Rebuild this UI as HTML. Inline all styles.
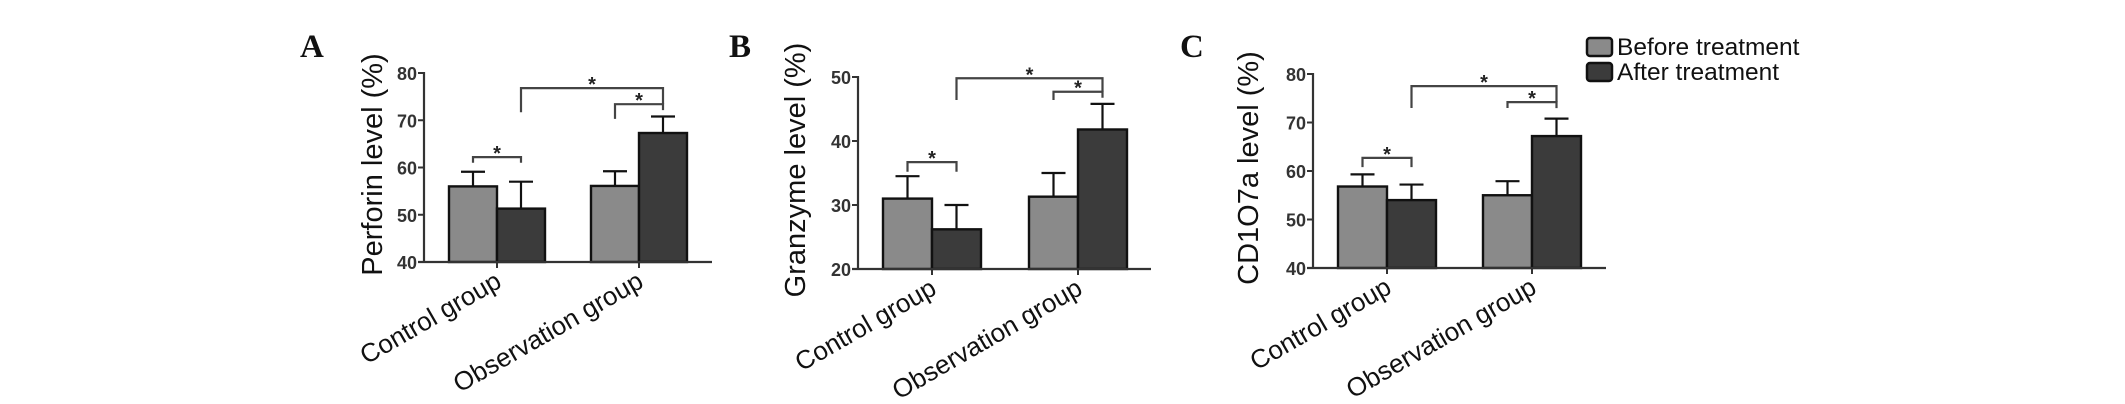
<!DOCTYPE html>
<html><head><meta charset="utf-8"><style>
html,body{margin:0;padding:0;background:#fff;}
svg{display:block;}
</style></head><body>
<svg id="fig" width="2125" height="404" viewBox="0 0 2125 404" xmlns="http://www.w3.org/2000/svg" font-family="Liberation Sans, Arial, sans-serif"></svg>
<script>
const categories = ["Control group", "Observation group"];
const seriesNames = ["Before treatment", "After treatment"];
const perforinBefore = [56, 56.1];
const perforinAfter = [51.3, 67.3];
const perforinBeforeErr = [3.1, 3.1];
const perforinAfterErr = [5.7, 3.5];
const perforinTicks = [40, 50, 60, 70, 80];
const granzymeBefore = [31, 31.3];
const granzymeAfter = [26.2, 41.8];
const granzymeBeforeErr = [3.5, 3.7];
const granzymeAfterErr = [3.8, 4.0];
const granzymeTicks = [20, 30, 40, 50];
const cd107Before = [56.8, 55];
const cd107After = [54, 67.2];
const cd107BeforeErr = [2.5, 2.9];
const cd107AfterErr = [3.2, 3.6];
const cd107Ticks = [40, 50, 60, 70, 80];
// bracket levels in data units: [controlLevel, controlDrop, topLevel, topLeftDrop, innerLevel, innerLeftDrop]
const perforinBrackets = [62.2, 61, 76.8, 71.7, 73.4, 70.3];
const granzymeBrackets = [36.7, 35.2, 49.8, 46.4, 47.7, 46.4];
const cd107Brackets = [62.7, 60.8, 77.5, 73, 74.2, 73];

const NS = "http://www.w3.org/2000/svg";
const svg = document.getElementById('fig');
function mk(tag, attrs, parent, txt){
  const e = document.createElementNS(NS, tag);
  for (const k in attrs) e.setAttribute(k, attrs[k]);
  if (txt !== undefined) e.textContent = txt;
  (parent || svg).appendChild(e);
  return e;
}

function panel(cfg){
  const g = mk('g', {});
  
  
  const ticks = cfg.ticks;
  const ymin = ticks[0], ymax = ticks[ticks.length-1];
  const y = v => cfg.yBot - (v - ymin) / (ymax - ymin) * (cfg.yBot - cfg.yTop);
  const L = mk('text', {x: cfg.letterX, y: 57, style: 'font-family:"Liberation Serif",serif', 'font-weight': 'bold', 'font-size': 33, fill: '#111'}, g, cfg.letter);
  
  
  const t = mk('text', {x: 0, y: 0, 'font-size': 29, fill: '#111', 'text-anchor': 'middle', transform: `translate(${cfg.titleX},${(cfg.yTop+cfg.yBot)/2 - 3}) rotate(-90)`}, g, cfg.title);
  
  
  const bw = cfg.barW;
  const befores = cfg.before, afters = cfg.after;
  for (let i = 0; i < categories.length; i++){
    const c = cfg.centers[i];
    [[befores[i], cfg.beforeErr[i], c - bw, '#8a8a8a', 'before'], [afters[i], cfg.afterErr[i], c, '#3b3b3b', 'after']].forEach(([v, e, x0, col, nm]) => {
      const cx = x0 + bw/2;
      const el = mk('line', {x1: cx, x2: cx, y1: y(v), y2: y(v+e), stroke: '#111', 'stroke-width': 2.2}, g);
      
      
      const cap = mk('line', {x1: cx-12, x2: cx+12, y1: y(v+e), y2: y(v+e), stroke: '#111', 'stroke-width': 2.2}, g);
      
      
      const r = mk('rect', {x: x0, y: y(v), width: bw, height: y(ymin) - y(v), fill: col, stroke: '#111', 'stroke-width': 2.4}, g);
      
      
    });
    const xt = mk('line', {x1: c, x2: c, y1: cfg.yBot, y2: cfg.yBot + 6, stroke: '#333', 'stroke-width': 2}, g);
    
    
    const lab = mk('text', {x: 0, y: 0, 'font-size': 26, fill: '#111', 'text-anchor': 'end', transform: `translate(${c+6},${cfg.yBot+24}) rotate(-30)`}, g, categories[i]);
    
    
  }
  const ya = mk('line', {x1: cfg.axX, x2: cfg.axX, y1: cfg.yTop - 1, y2: cfg.yBot, stroke: '#333', 'stroke-width': 2.2}, g);
  
  
  const xa = mk('line', {x1: cfg.axX - 6, x2: cfg.axEnd, y1: cfg.yBot, y2: cfg.yBot, stroke: '#333', 'stroke-width': 2.2}, g);
  
  
  ticks.forEach(tv => {
    const tk = mk('line', {x1: cfg.axX - 6, x2: cfg.axX, y1: y(tv), y2: y(tv), stroke: '#333', 'stroke-width': 2}, g);
    
    
    const tl = mk('text', {x: cfg.axX - 7, y: y(tv) + 7, 'font-size': 18, 'font-weight': 'bold', fill: '#333', 'text-anchor': 'end'}, g, tv);
    
    
  });
  const b = cfg.brackets;
  const cB0 = cfg.centers[0] - bw/2, cA0 = cfg.centers[0] + bw/2;
  const cB1 = cfg.centers[1] - bw/2, cA1 = cfg.centers[1] + bw/2;
  const br = (pts, sx, sy) => {
    const p = mk('polyline', {points: pts.map(q => q.join(',')).join(' '), fill: 'none', stroke: '#444', 'stroke-width': 2.2}, g);
    
    
    const s = mk('text', {x: sx, y: sy + 14, 'font-size': 20, 'font-weight': 'bold', fill: '#222', 'text-anchor': 'middle'}, g, '*');
    
    
  };
  br([[cB0, y(b[1])], [cB0, y(b[0])], [cA0, y(b[0])], [cA0, y(b[1])]], (cB0+cA0)/2, y(b[0]) - 11);
  br([[cA0, y(b[3])], [cA0, y(b[2])], [cA1, y(b[2])], [cA1, y(b[4])]], (cA0+cA1)/2, y(b[2]) - 11);
  br([[cB1, y(b[5])], [cB1, y(b[4])], [cA1, y(b[4])], [cA1, y(b[4]) + 6]], (cB1+cA1)/2, y(b[4]) - 11);
}

panel({name: 'panel-a-perforin', letter: 'A', letterX: 300, title: 'Perforin level (%)', titleX: 382, axX: 424, axEnd: 712, yTop: 73, yBot: 262, ticks: perforinTicks, centers: [497, 639], barW: 48, before: perforinBefore, after: perforinAfter, beforeErr: perforinBeforeErr, afterErr: perforinAfterErr, brackets: perforinBrackets});
panel({name: 'panel-b-granzyme', letter: 'B', letterX: 729, title: 'Granzyme level (%)', titleX: 805, axX: 858, axEnd: 1151, yTop: 77, yBot: 269, ticks: granzymeTicks, centers: [932, 1078], barW: 49, before: granzymeBefore, after: granzymeAfter, beforeErr: granzymeBeforeErr, afterErr: granzymeAfterErr, brackets: granzymeBrackets});
panel({name: 'panel-c-cd107a', letter: 'C', letterX: 1180, title: 'CD1O7a level (%)', titleX: 1258, axX: 1313, axEnd: 1606, yTop: 74, yBot: 268, ticks: cd107Ticks, centers: [1387, 1532], barW: 49, before: cd107Before, after: cd107After, beforeErr: cd107BeforeErr, afterErr: cd107AfterErr, brackets: cd107Brackets});

const lg = mk('g', {});


[['#8a8a8a', 38], ['#3b3b3b', 63]].forEach(([col, yy], i) => {
  const r = mk('rect', {x: 1587, y: yy, width: 25, height: 18, rx: 3, fill: col, stroke: '#111', 'stroke-width': 2.5}, lg);
  
  
  const t = mk('text', {x: 1617, y: yy + 17, 'font-size': 24.5, fill: '#111'}, lg, seriesNames[i]);
  
  
});
</script>
</body></html>
